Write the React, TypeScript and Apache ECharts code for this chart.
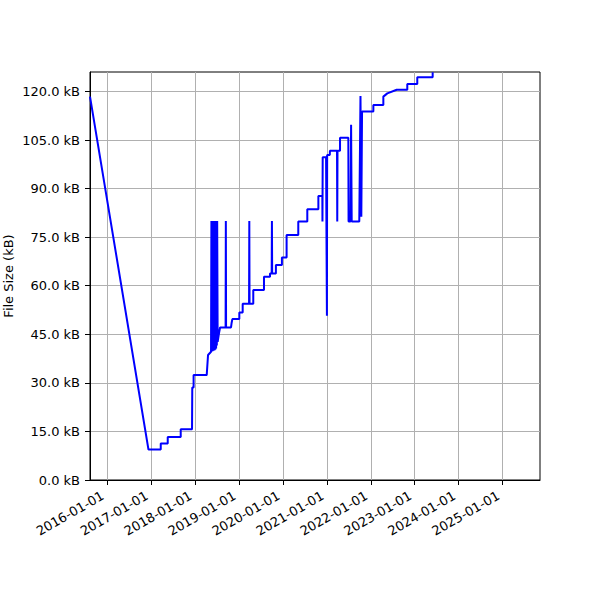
import { useEffect, useRef } from 'react';
import * as echarts from 'echarts';

const dates = [
  '2015-08-12', '2016-12-10', '2017-03-22', '2017-03-22', '2017-05-19', '2017-05-19',
  '2017-09-04', '2017-09-04', '2017-12-07', '2017-12-07', '2017-12-09', '2017-12-09',
  '2017-12-20', '2017-12-20', '2018-04-08', '2018-04-19', '2018-05-14',
  '2018-05-17', '2018-05-20', '2018-05-23', '2018-05-26', '2018-05-29', '2018-06-01',
  '2018-06-04', '2018-06-07', '2018-06-10', '2018-06-13', '2018-06-16', '2018-06-19',
  '2018-06-22', '2018-06-25', '2018-06-28', '2018-07-01', '2018-07-04', '2018-07-08',
  '2018-07-19', '2018-07-28', '2018-09-12', '2018-09-14', '2018-09-16', '2018-10-27',
  '2018-11-01', '2018-11-07', '2019-01-04', '2019-01-04', '2019-02-01', '2019-02-01',
  '2019-03-26', '2019-03-28', '2019-03-30', '2019-04-30', '2019-04-30', '2019-07-28',
  '2019-07-28', '2019-09-16', '2019-09-16', '2019-09-30', '2019-10-02', '2019-10-04',
  '2019-11-04', '2019-11-04', '2019-12-24', '2019-12-24', '2020-02-01', '2020-02-01',
  '2020-05-08', '2020-05-08', '2020-07-22', '2020-07-22', '2020-10-22', '2020-10-22',
  '2020-11-24', '2020-11-25', '2020-11-27', '2020-12-25', '2021-01-01', '2021-01-03',
  '2021-01-25', '2021-01-26', '2021-03-26', '2021-03-28', '2021-03-30', '2021-04-20',
  '2021-04-20', '2021-06-28', '2021-06-30', '2021-07-16', '2021-07-21', '2021-07-26',
  '2021-09-27', '2021-10-07', '2021-10-14', '2021-10-20', '2022-01-22', '2022-01-22',
  '2022-04-15', '2022-04-15', '2022-05-18', '2022-08-04', '2022-10-31', '2022-10-31',
  '2023-01-22', '2023-01-22', '2023-05-30', '2023-05-30',
];

const sizesKB = [
  118.4, 9.4, 9.4, 11.3, 11.3, 13.3,
  13.3, 15.7, 15.7, 16.0, 16.0, 28.6,
  28.6, 32.4, 32.4, 38.6, 39.6,
  80.0, 39.7, 80.0, 39.8, 80.0, 39.9,
  80.0, 40.0, 80.0, 40.1, 80.0, 40.3,
  80.0, 40.6, 80.0, 41.5, 80.0, 42.7,
  45.3, 47.1, 47.1, 80.0, 47.1, 47.1,
  48.5, 49.7, 49.7, 51.7, 51.7, 54.4,
  54.4, 80.0, 54.4, 54.4, 58.7, 58.7,
  62.8, 62.8, 63.8, 63.8, 80.0, 63.8,
  63.8, 66.4, 66.4, 68.7, 68.7, 75.7,
  75.7, 79.8, 79.8, 83.6, 83.6, 87.7,
  87.7, 79.8, 99.7, 99.7, 50.7, 100.4,
  100.4, 101.7, 101.7, 79.8, 101.7, 101.7,
  105.7, 105.7, 79.8, 79.8, 109.7, 79.8,
  79.8, 118.6, 81.3, 113.8, 113.8, 115.8,
  115.8, 118.4, 119.4, 120.5, 120.5, 122.3,
  122.3, 124.4, 124.4, 125.9,
];

const tickYears = [2016, 2017, 2018, 2019, 2020, 2021, 2022, 2023, 2024, 2025];
const yTicks = [0, 15, 30, 45, 60, 75, 90, 105, 120];
const xStart = '2015-08-12';
const xEnd = '2025-11-07';
const yMax = 126;

const pad = (n: number) => String(n).padStart(2, '0');
const toTime = (s: string) => {
  const [y, m, d] = s.split('-').map(Number);
  return new Date(y, m - 1, d).getTime();
};

export default function App() {
  const chartRef = useRef<HTMLDivElement>(null);

  useEffect(() => {
    if (!chartRef.current) return;
    const chart = echarts.init(chartRef.current, null, { renderer: 'svg' });
    const font = 'DejaVu Sans';
    const xTicks = tickYears.map((y) => new Date(y, 0, 1).getTime());

    chart.setOption({
      animation: false,
      textStyle: { fontFamily: font },
      grid: {
        left: 90,
        right: 60,
        top: 72,
        bottom: 120,
        containLabel: false,
        outerBoundsMode: 'none',
        show: true,
        borderColor: '#000',
        borderWidth: 1,
        backgroundColor: 'transparent',
      },
      xAxis: {
        type: 'value',
        min: toTime(xStart),
        max: toTime(xEnd),
        axisLine: { show: true, onZero: false, lineStyle: { color: '#000', width: 1 } },
        axisTick: {
          show: true,
          inside: false,
          length: 5,
          lineStyle: { color: '#000' },
          customValues: xTicks,
        },
        axisLabel: {
          customValues: xTicks,
          rotate: 30,
          margin: 12,
          padding: [0, 5, 0, 0],
          fontSize: 13,
          color: '#000',
          fontFamily: font,
          hideOverlap: false,
          formatter: (v: number) => {
            const d = new Date(v);
            return `${d.getFullYear()}-${pad(d.getMonth() + 1)}-${pad(d.getDate())}`;
          },
        },
        splitLine: { show: true, lineStyle: { color: '#b0b0b0', width: 1 } },
      },
      yAxis: {
        type: 'value',
        min: 0,
        max: yMax,
        name: 'File Size (kB)',
        nameLocation: 'middle',
        nameGap: 75,
        nameMoveOverlap: false,
        nameTextStyle: { fontSize: 13, color: '#000', fontFamily: font },
        axisLine: { show: true, lineStyle: { color: '#000', width: 1 } },
        axisTick: {
          show: true,
          inside: false,
          length: 5,
          lineStyle: { color: '#000' },
          customValues: yTicks,
        },
        axisLabel: {
          customValues: yTicks,
          margin: 10,
          fontSize: 13,
          color: '#000',
          fontFamily: font,
          formatter: (v: number) => `${v.toFixed(1)} kB`,
        },
        splitLine: { show: true, lineStyle: { color: '#b0b0b0', width: 1 } },
      },
      series: [
        {
          type: 'line',
          data: dates.map((d, i) => [toTime(d), sizesKB[i]]),
          showSymbol: false,
          symbol: 'none',
          clip: true,
          lineStyle: { color: '#0000ff', width: 2 },
        },
      ],
    });

    return () => {
      chart.dispose();
    };
  }, []);

  return (
    <div
      ref={chartRef}
      style={{ position: 'fixed', left: 0, top: 0, width: 600, height: 600, background: '#fff' }}
    />
  );
}
